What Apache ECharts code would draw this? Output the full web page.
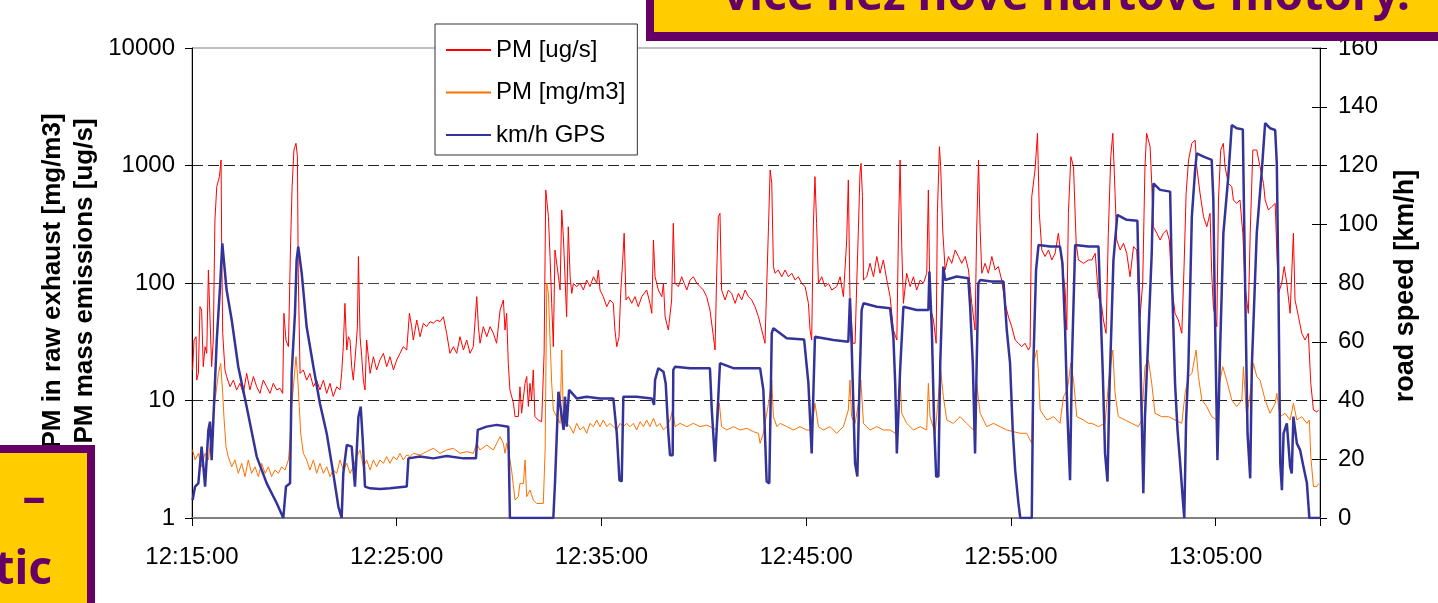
<!DOCTYPE html>
<html>
<head>
<meta charset="utf-8">
<script src="https://cdn.jsdelivr.net/npm/echarts@6.0.0/dist/echarts.min.js"></script>
<style>
html, body { margin: 0; padding: 0; background: #fff; }
#chart { width: 1438px; height: 603px; }
</style>
</head>
<body>
<div id="chart"></div>
<script>
// time axis: minutes after 12:15:00
const timeLabels = ['12:15:00', '12:25:00', '12:35:00', '12:45:00', '12:55:00', '13:05:00'];
const seriesNames = ['PM [ug/s]', 'PM [mg/m3]', 'km/h GPS'];

// PM mass emissions [ug/s]  -> [minute, value]
const pmUgS = [
  [0.03,18.2],[0.10,32.7],[0.20,34.9],[0.23,14.9],[0.31,17.0],[0.39,62.9],[0.47,58.9],[0.55,19.4],[0.64,28.7],[0.72,25.2],
  [0.80,129],[0.88,129],[0.96,19.4],[1.04,32.7],[1.12,344],[1.21,661],[1.34,804],[1.42,1114],[1.45,204],[1.50,37.3],
  [1.61,18.2],[1.69,16.0],[1.86,13.1],[2.02,14.9],[2.18,12.3],[2.34,14.0],[2.51,11.5],[2.67,17.0],[2.83,12.3],[3.00,16.0],
  [3.16,13.1],[3.32,11.5],[3.48,14.9],[3.65,13.1],[3.81,11.5],[3.97,14.0],[4.14,12.3],[4.30,12.7],[4.43,11.5],[4.49,55.2],
  [4.59,32.7],[4.71,28.7],[4.82,232],[4.89,661],[4.98,1355],[5.08,1545],[5.15,1189],[5.19,121],[5.28,17.0],[5.44,18.2],
  [5.60,14.9],[5.76,17.0],[5.93,13.1],[6.09,14.9],[6.25,12.3],[6.42,14.9],[6.58,11.5],[6.74,14.0],[6.90,10.8],[7.07,13.1],
  [7.23,12.3],[7.31,17.0],[7.39,28.7],[7.47,67.1],[7.56,26.9],[7.64,34.9],[7.72,32.7],[7.80,19.4],[7.88,14.9],[8.00,26.9],
  [8.08,42.5],[8.13,168],[8.21,34.9],[8.29,23.6],[8.37,14.9],[8.45,12.3],[8.53,32.7],[8.70,17.0],[8.86,23.6],[9.02,18.2],
  [9.18,22.1],[9.35,25.2],[9.51,19.4],[9.67,23.6],[9.84,18.2],[10.00,22.1],[10.16,25.2],[10.32,28.7],[10.49,26.9],[10.62,55.2],
  [10.73,42.5],[10.81,32.7],[10.98,48.4],[11.14,34.9],[11.30,45.4],[11.46,42.5],[11.63,46.9],[11.79,45.4],[11.95,48.4],[12.12,46.9],
  [12.28,51.6],[12.44,37.3],[12.60,25.2],[12.77,28.7],[12.93,25.2],[13.09,34.9],[13.26,26.9],[13.42,32.7],[13.58,25.2],[13.74,28.7],
  [13.91,76.5],[13.99,42.5],[14.07,30.7],[14.23,42.5],[14.40,34.9],[14.56,42.5],[14.72,37.3],[14.88,30.7],[15.05,58.9],
  [15.21,71.7],[15.29,39.8],[15.37,55.2],[15.45,20.7],[15.53,12.3],[15.70,9.5],[15.78,7.3],[15.94,7.3],[16.02,13.1],[16.10,7.8],
  [16.27,14.0],[16.35,16.0],[16.43,8.9],[16.51,14.0],[16.59,10.1],[16.67,18.2],[16.75,7.3],[16.92,6.8],[17.08,6.6],[17.20,25.2],
  [17.28,619],[17.41,367],[17.49,168],[17.57,67.1],[17.65,28.7],[17.73,191],[17.81,191],[17.90,113],[17.98,87.2],[18.06,418],
  [18.14,248],[18.22,113],[18.30,51.6],[18.38,301],[18.47,113],[18.55,81.6],[18.63,99.4],[18.79,93.1],[18.96,99.4],[19.12,87.2],
  [19.28,106],[19.44,93.1],[19.61,113],[19.77,99.4],[19.85,129],[19.93,87.2],[20.09,76.5],[20.26,62.9],[20.42,71.7],[20.58,67.1],
  [20.66,39.8],[20.75,28.7],[20.86,34.9],[20.94,81.6],[21.04,157],[21.11,265],[21.20,71.7],[21.32,76.5],[21.48,67.1],[21.64,76.5],
  [21.80,62.9],[21.97,76.5],[22.21,87.2],[22.37,67.1],[22.46,55.2],[22.54,232],[22.62,113],[22.78,87.2],[22.95,76.5],[23.03,99.4],
  [23.11,51.6],[23.27,39.8],[23.43,71.7],[23.51,322],[23.59,99.4],[23.76,93.1],[23.92,113],[24.17,87.2],[24.33,106],[24.49,113],
  [24.66,99.4],[24.82,93.1],[24.98,87.2],[25.14,76.5],[25.30,58.9],[25.47,34.9],[25.55,26.9],[25.63,121],[25.71,367],[25.79,392],
  [25.87,87.2],[26.04,71.7],[26.20,87.2],[26.36,81.6],[26.53,67.1],[26.69,81.6],[26.85,71.7],[27.02,87.2],[27.18,76.5],[27.34,71.7],
  [27.50,62.9],[27.67,51.6],[27.83,39.8],[27.99,30.7],[28.16,301],[28.24,916],[28.32,705],[28.40,138],[28.48,121],[28.64,129],
  [28.81,113],[28.97,129],[29.13,113],[29.30,121],[29.46,106],[29.62,113],[29.78,99.4],[29.95,93.1],[30.11,67.1],[30.19,39.8],
  [30.27,32.7],[30.35,301],[30.43,804],[30.51,322],[30.60,99.4],[30.76,113],[30.92,93.1],[31.09,99.4],[31.25,87.2],
  [31.33,87.2],[31.49,93.1],[31.66,113],[31.82,76.5],[31.98,232],[32.06,753],[32.14,76.5],[32.28,30.7],[32.39,30.7],[32.47,99.4],
  [32.55,282],[32.63,858],[32.68,1043],[32.75,543],[32.80,106],[32.96,113],[33.12,147],[33.29,113],[33.45,168],[33.61,121],
  [33.77,157],[33.94,106],[34.10,76.5],[34.26,39.8],[34.43,32.7],[34.51,282],[34.59,1114],[34.67,204],[34.75,67.1],[34.91,121],
  [35.08,93.1],[35.24,113],[35.40,87.2],[35.57,106],[35.73,99.4],[35.89,121],[35.97,619],[36.05,62.9],[36.22,48.4],[36.35,30.7],
  [36.41,392],[36.51,1445],[36.57,977],[36.67,282],[36.79,129],[36.95,168],[37.11,147],[37.28,191],[37.44,168],[37.60,147],
  [37.77,168],[37.93,129],[38.09,67.1],[38.25,39.8],[38.33,282],[38.42,1114],[38.50,282],[38.58,121],[38.74,147],[38.90,121],
  [39.07,168],[39.23,129],[39.39,138],[39.55,106],[39.72,67.1],[39.88,51.6],[40.04,42.5],[40.21,32.7],[40.37,30.7],[40.53,28.7],
  [40.69,30.7],[40.86,26.9],[40.94,28.7],[41.02,543],[41.18,916],[41.30,1879],[41.39,392],[41.51,191],[41.67,168],[41.84,191],
  [42.00,157],[42.16,179],[42.32,265],[42.49,147],[42.65,87.2],[42.73,39.8],[42.81,392],[42.93,1189],[43.06,977],[43.19,218],
  [43.30,157],[43.55,147],[43.79,157],
  [43.95,157],[44.12,179],[44.28,76.5],[44.44,62.9],[44.52,48.4],[44.65,37.3],[44.76,265],[44.88,1189],[44.98,1879],[45.09,580],
  [45.17,232],[45.34,191],[45.50,218],[45.66,179],[45.82,113],[45.99,204],[46.15,191],[46.23,81.6],[46.31,51.6],[46.44,99.4],
  [46.55,977],[46.63,1879],[46.80,1445],[46.88,705],[46.96,301],[47.13,265],[47.29,232],[47.45,265],[47.61,282],[47.74,232],
  [47.86,93.1],[48.02,55.2],[48.18,48.4],[48.35,37.3],[48.46,138],[48.56,580],[48.68,1114],[48.84,1545],[49.00,1648],[49.08,977],
  [49.24,580],[49.41,367],[49.57,301],[49.73,392],[49.81,121],[49.89,62.9],[50.06,42.5],[50.14,509],[50.25,1355],[50.38,1545],
  [50.46,977],[50.62,705],[50.79,661],[50.87,509],[51.03,476],[51.19,509],[51.33,265],[51.44,93.1],[51.60,55.2],[51.69,265],
  [51.82,1355],[52.01,1355],[52.17,977],[52.34,705],[52.42,509],[52.58,418],[52.74,446],[52.91,476],[52.99,191],[53.07,81.6],
  [53.23,99.4],[53.35,138],[53.48,99.4],[53.64,55.2],[53.80,265],[53.88,71.7],[54.05,51.6],[54.21,37.3],[54.37,32.7],[54.53,37.3],
  [54.65,14.0],[54.78,8.3],[54.94,8.0],[55.04,8.3]
];

// PM in raw exhaust [mg/m3]
const pmMgM3 = [
  [0.03,3.79],[0.15,3.12],[0.31,3.55],[0.47,2.73],[0.64,3.55],[0.80,3.12],[0.96,5.26],[1.04,7.78],[1.17,11.5],[1.29,17.0],
  [1.40,20.7],[1.50,11.5],[1.56,7.28],[1.66,4.05],[1.77,3.33],[1.94,2.73],[2.10,3.12],[2.26,2.40],[2.43,2.92],[2.59,2.25],
  [2.75,3.12],[2.91,2.40],[3.08,2.73],[3.24,2.25],[3.40,2.92],[3.57,2.40],[3.73,2.73],[3.89,2.25],[4.05,2.56],[4.22,2.40],
  [4.38,2.73],[4.54,2.56],[4.71,3.12],[4.79,4.61],[4.87,8.87],[4.98,14.9],[5.08,23.6],[5.15,17.0],[5.24,8.87],[5.31,5.26],
  [5.44,3.55],[5.60,3.12],[5.76,2.56],[5.93,3.12],[6.09,2.40],[6.25,2.92],[6.42,2.40],[6.58,2.73],[6.74,2.25],[6.90,2.56],
  [7.07,2.40],[7.23,3.12],[7.39,2.56],[7.56,2.92],[7.72,2.40],[7.88,2.73],[8.04,3.33],[8.21,3.79],[8.37,2.73],[8.53,3.12],
  [8.70,2.56],[8.86,3.12],[9.02,2.73],[9.18,3.12],[9.35,2.92],[9.51,3.33],[9.67,2.92],[9.84,3.33],[10.00,3.12],[10.16,3.55],
  [10.32,3.12],[10.49,3.44],[10.65,3.33],[10.81,3.55],[11.14,3.44],[11.46,3.67],[11.79,3.92],[12.12,3.55],[12.44,3.79],[12.77,3.92],
  [13.09,3.55],[13.42,3.67],[13.74,3.55],[13.91,4.32],[14.07,3.79],[14.40,4.18],[14.72,3.79],[15.05,4.92],
  [15.21,4.32],[15.29,3.55],[15.37,4.32],[15.45,3.79],[15.61,2.56],[15.78,1.42],[15.94,1.52],[16.02,1.97],[16.19,1.97],[16.27,3.12],
  [16.35,1.52],[16.51,1.73],[16.67,1.42],[16.84,1.33],[17.00,1.33],[17.16,1.33],[17.25,3.79],[17.33,99.4],[17.41,81.6],[17.49,32.7],
  [17.57,14.0],[17.65,8.30],[17.81,7.28],[17.98,6.39],[18.06,26.9],[18.14,7.28],[18.30,6.39],[18.47,5.99],[18.63,5.26],[18.79,6.39],
  [18.96,5.61],[19.12,5.99],[19.28,5.26],[19.44,6.39],[19.61,5.99],[19.77,6.82],[19.93,5.99],[20.09,6.82],[20.26,5.99],[20.42,6.39],
  [20.58,5.99],[20.75,5.61],[20.91,6.39],[21.07,5.99],[21.23,6.39],[21.40,5.99],[21.56,6.39],[21.72,5.61],[21.89,6.60],[22.05,5.99],
  [22.21,6.82],[22.37,5.99],[22.54,7.05],[22.70,5.99],[22.86,6.39],[23.03,5.61],[23.19,5.99],[23.35,6.82],[23.48,8.30],[23.60,5.99],
  [23.84,6.39],[24.17,5.99],[24.49,6.39],[24.82,5.99],[25.14,6.18],[25.47,5.80],[25.63,5.61],[25.76,9.46],[25.87,5.99],[26.12,5.61],
  [26.45,5.99],[26.77,5.61],[27.10,5.80],[27.42,5.43],[27.67,5.26],[27.75,4.32],[27.91,5.26],[28.16,9.46],[28.32,14.9],[28.40,7.28],
  [28.57,5.99],[28.73,6.39],[29.05,5.99],[29.38,5.61],[29.70,5.99],[30.03,5.61],[30.27,5.61],[30.43,9.46],[30.60,5.99],[30.84,5.61],
  [31.17,5.99],
  [31.49,5.26],[31.82,5.99],[32.06,8.30],[32.14,14.9],[32.22,7.28],[32.39,6.39],[32.55,9.46],[32.67,14.9],[32.80,6.39],[33.12,5.61],
  [33.45,5.99],[33.77,5.61],[34.10,5.61],[34.35,5.26],[34.51,6.82],[34.59,16.0],[34.67,7.78],[34.91,6.39],[35.24,5.61],[35.57,5.99],
  [35.89,5.61],[35.97,14.0],[36.05,7.28],[36.30,5.26],[36.46,10.8],[36.57,18.2],[36.70,10.8],[36.87,6.82],[37.19,6.39],[37.52,7.28],
  [37.84,6.39],[38.17,5.61],[38.33,14.0],[38.50,7.78],[38.82,5.99],[39.15,6.39],[39.47,5.99],[39.80,5.61],[40.12,5.43],[40.45,5.26],
  [40.77,5.26],[41.02,4.32],[41.10,20.7],[41.27,26.9],[41.35,17.0],[41.43,8.30],[41.76,6.82],[42.09,7.28],[42.40,6.39],[42.57,10.8],
  [42.76,12.3],[42.93,20.7],[43.06,14.9],[43.22,7.28],[43.55,6.82],[43.79,6.39],
  [43.95,6.39],[44.28,5.99],[44.60,6.39],[44.81,17.0],[44.98,26.9],[45.09,11.5],[45.25,7.28],[45.58,6.82],[45.90,6.39],[46.23,5.99],
  [46.39,6.82],[46.55,19.4],[46.72,22.1],[46.88,14.0],[47.04,7.78],[47.37,7.28],[47.70,7.28],[48.02,6.82],[48.35,6.39],[48.51,11.5],
  [48.68,16.0],[48.84,17.0],[49.05,26.9],[49.16,16.0],[49.33,10.1],[49.57,8.87],[49.81,7.28],[50.06,6.82],[50.19,14.0],[50.35,19.4],
  [50.54,14.9],[50.79,10.1],[51.03,8.87],[51.28,10.1],[51.36,19.4],[51.52,7.28],[51.69,11.5],[51.85,20.7],[52.01,16.0],[52.17,14.9],
  [52.42,10.1],[52.66,7.78],[52.91,9.46],[52.99,11.5],[53.15,7.28],[53.39,7.78],[53.64,6.82],[53.80,9.46],[53.97,6.82],[54.21,7.28],
  [54.46,6.39],[54.58,6.82],[54.65,3.33],[54.78,1.85],[54.94,1.85],[55.04,1.97]
];

// road speed km/h (GPS)
const speedGps = [
  [0.03,6.1],[0.15,10.7],[0.31,11.8],[0.47,24.3],[0.64,10.7],[0.80,30.0],[0.88,32.8],[0.96,19.7],[1.21,60.6],[1.37,78.8],
  [1.48,93.5],[1.69,77.6],[1.94,67.4],[2.26,51.5],[2.67,37.9],[3.16,20.9],[3.65,11.8],[4.14,5.0],[4.46,0],[4.59,10.7],
  [4.79,11.8],[4.87,49.3],[5.03,69.7],[5.11,87.8],[5.19,92.4],[5.36,83.3],[5.60,65.1],[5.93,51.5],[6.25,39.0],[6.58,28.8],
  [6.90,15.2],[7.15,3.9],[7.31,0],[7.39,15.2],[7.56,24.9],[7.80,24.3],[7.96,10.7],[8.13,34.5],[8.24,37.9],[8.34,26.6],
  [8.45,10.7],[8.70,10.1],[9.18,9.9],[9.67,10.1],[10.49,10.7],[10.57,20.3],[11.14,20.9],[11.79,20.3],[12.44,21.1],[13.26,20.3],
  [13.87,20.3],[13.96,30.0],[14.39,31.1],[14.88,31.7],[15.45,31.1],[15.53,0],[17.65,0],[17.73,11.8],[17.90,43.0],[17.98,42.4],
  [18.15,30.0],[18.22,41.3],[18.30,31.1],[18.42,43.6],[18.79,40.7],[19.28,41.3],[19.93,40.7],[20.58,40.7],[20.75,28.8],[20.88,12.9],
  [20.99,12.4],[21.07,41.3],[21.72,41.3],[22.46,40.7],[22.57,38.5],[22.62,47.0],[22.78,51.0],[23.03,49.8],[23.14,45.8],[23.27,28.8],
  [23.35,21.4],[23.48,21.4],[23.51,50.4],[23.60,51.5],[24.33,51.0],[25.30,51.0],[25.39,36.8],[25.55,19.2],[25.63,19.2],[25.71,41.3],
  [25.79,52.7],[26.44,51.0],[27.10,51.0],[27.75,51.0],[27.91,43.6],[28.07,12.4],[28.20,11.8],[28.32,62.9],[28.40,64.6],[29.05,61.2],
  [29.90,60.8],[30.11,45.8],[30.27,22.0],[30.43,61.7],[31.33,60.6],[32.06,60.0],[32.14,74.8],[32.22,59.5],[32.39,18.6],[32.50,14.1],
  [32.60,43.6],[32.71,70.8],[32.80,73.1],[33.45,71.9],[34.10,71.4],[34.26,61.7],[34.35,45.8],[34.43,22.0],[34.51,22.0],[34.59,50.4],
  [34.75,71.9],[35.40,70.8],[35.97,70.8],[36.02,83.9],[36.14,64.0],[36.25,32.2],[36.35,14.1],[36.46,14.1],[36.55,52.7],[36.70,85.6],
  [36.79,81.0],[37.35,82.2],[37.92,81.6],[38.01,71.9],[38.14,52.7],[38.25,22.0],[38.33,52.7],[38.41,79.9],[38.50,81.0],[39.06,80.5],
  [39.64,80.5],[39.80,64.0],[39.96,52.7],[40.09,30.0],[40.21,16.3],[40.37,5.0],[40.46,0],[41.02,0],[41.10,52.7],[41.23,84.4],
  [41.35,92.9],[41.92,92.4],[42.40,92.4],[42.52,86.7],[42.65,64.0],[42.76,35.6],[42.89,12.9],[42.98,52.7],[43.14,92.9],[43.79,92.4],
  [44.28,92.4],[44.36,75.4],[44.49,49.3],[44.60,22.0],[44.72,12.4],[44.81,42.4],[45.01,87.8],[45.20,103.2],[45.66,101.5],[46.18,101.2],
  [46.23,85.6],[46.31,59.5],[46.39,34.5],[46.47,8.4],[46.55,34.5],[46.72,62.9],[46.88,90.1],[46.96,113.9],[47.29,111.7],[47.78,111.1],
  [47.86,83.3],[48.02,45.8],[48.14,30.0],[48.27,18.6],[48.40,6.1],[48.47,0],[48.56,33.4],[48.67,51.5],[48.84,102.6],[49.00,118.5],
  [49.08,124.1],[49.41,123.0],[49.81,121.9],[49.89,108.3],[49.97,68.5],[50.09,19.7],[50.22,57.2],[50.38,96.9],[50.62,116.2],[50.79,133.8],
  [51.03,132.7],[51.33,132.3],[51.44,79.9],[51.56,28.8],[51.69,13.5],[51.77,51.5],[52.01,96.9],[52.26,118.5],[52.42,134.4],[52.66,132.7],
  [52.91,132.1],[52.99,120.7],[53.07,78.8],[53.16,18.6],[53.24,9.5],[53.32,28.8],[53.48,32.2],[53.64,17.5],[53.72,15.2],[53.80,34.5],
  [53.97,25.4],[54.13,23.1],[54.29,17.5],[54.46,11.9],[54.58,0],[55.10,0]
];

const font = 'Liberation Sans, Arial, sans-serif';
const purple = '#660066';
const yellow = '#ffcc00';

let chart = echarts.init(document.getElementById('chart'));
chart.setOption({
  animation: false,
  backgroundColor: '#fff',
  textStyle: { fontFamily: font },
  grid: { left: 192, right: 118, top: 48, bottom: 85, show: true, borderColor: '#808080', borderWidth: 1 },
  legend: {
    orient: 'vertical', left: 435, top: 24,
    padding: [12, 12, 6, 10],
    itemWidth: 45, itemHeight: 14, itemGap: 14.5,
    backgroundColor: '#fff', borderColor: '#333', borderWidth: 1,
    itemStyle: { opacity: 0 },
    textStyle: { fontSize: 24, color: '#000', lineHeight: 28, fontFamily: font },
    data: seriesNames
  },
  xAxis: {
    type: 'value', min: 0, max: 55.1, interval: 10,
    axisLine: { lineStyle: { color: '#808080', width: 2 } },
    axisTick: { length: 8, lineStyle: { color: '#000' } },
    axisLabel: {
      fontSize: 24, color: '#000', margin: 27,
      formatter: function(v) {
        let i = Math.round(v / 10);
        return Math.abs(v - i * 10) < 1e-6 && timeLabels[i] ? timeLabels[i] : '';
      }
    },
    splitLine: { show: false }
  },
  yAxis: [
    {
      type: 'log', logBase: 10, min: 1, max: 10000, position: 'left',
      axisLine: { show: true, lineStyle: { color: '#000' } },
      axisTick: { show: true, length: 7, lineStyle: { color: '#000' } },
      axisLabel: { fontSize: 24, color: '#000', margin: 17, formatter: v => String(Math.round(v)) },
      splitLine: { show: true, lineStyle: { type: [11, 5], width: 1, color: ['rgba(0,0,0,0)', '#222', '#444', '#222', 'rgba(0,0,0,0)'] } }
    },
    {
      type: 'value', min: 0, max: 160, interval: 20, position: 'right',
      axisLine: { show: true, lineStyle: { color: '#000' } },
      axisTick: { show: true, length: 7, lineStyle: { color: '#000' } },
      axisLabel: { fontSize: 24, color: '#000', margin: 18 },
      splitLine: { show: false }
    },
    {
      // inner half of the crossing ticks on the speed axis
      type: 'value', min: 0, max: 160, interval: 20, position: 'right',
      axisLine: { show: false },
      axisTick: { show: true, inside: true, length: 8, lineStyle: { color: '#000' } },
      axisLabel: { show: false },
      splitLine: { show: false }
    }
  ],
  series: [
    { name: seriesNames[0], type: 'line', yAxisIndex: 0, data: pmUgS, symbol: 'none',
      lineStyle: { color: '#ff0000', width: 1 }, itemStyle: { color: '#ff0000' } },
    { name: seriesNames[1], type: 'line', yAxisIndex: 0, data: pmMgM3, symbol: 'none',
      lineStyle: { color: '#ff7000', width: 1 }, itemStyle: { color: '#ff7000' } },
    { name: seriesNames[2], type: 'line', yAxisIndex: 1, data: speedGps, symbol: 'none',
      lineStyle: { color: '#333399', width: 2.5 }, itemStyle: { color: '#333399' } }
  ],
  graphic: [
    { type: 'text', x: 69, y: 281, rotation: Math.PI / 2, z: 50,
      style: { text: 'PM in raw exhaust [mg/m3]\nPM mass emissions [ug/s]', fontFamily: font, fontWeight: 'bold', fontSize: 26,
        lineHeight: 32, fill: '#000', align: 'center', verticalAlign: 'middle' } },
    { type: 'text', x: 1406, y: 286, rotation: Math.PI / 2, z: 50,
      style: { text: 'road speed [km/h]', fontFamily: font, fontWeight: 'bold', fontSize: 27,
        fill: '#000', align: 'center', verticalAlign: 'middle' } },
    // slide boxes lying over the chart
    { type: 'rect', z: 100, shape: { x: 646, y: -20, width: 820, height: 61 }, style: { fill: purple } },
    { type: 'rect', z: 101, shape: { x: 654, y: -20, width: 820, height: 52 }, style: { fill: yellow } },
    { type: 'text', x: 1410, y: -3, z: 102,
      style: { text: 'více než nové naftové motory.', fontFamily: 'Noto Sans', fontWeight: 'bold', fontSize: 46,
        fill: purple, align: 'right', verticalAlign: 'middle' } },
    { type: 'rect', z: 100, shape: { x: -20, y: 445, width: 115, height: 200 }, style: { fill: purple } },
    { type: 'rect', z: 101, shape: { x: -20, y: 453, width: 107, height: 200 }, style: { fill: yellow } },
    { type: 'text', x: 34, y: 500, z: 102,
      style: { text: '–', fontFamily: 'Noto Sans', fontWeight: 'bold', fontSize: 46, fill: purple, align: 'center', verticalAlign: 'middle' } },
    { type: 'text', x: 52, y: 571, z: 102,
      style: { text: 'tic', fontFamily: 'Noto Sans', fontWeight: 'bold', fontSize: 46, fill: purple, align: 'right', verticalAlign: 'middle' } }
  ]
});
</script>
</body>
</html>
